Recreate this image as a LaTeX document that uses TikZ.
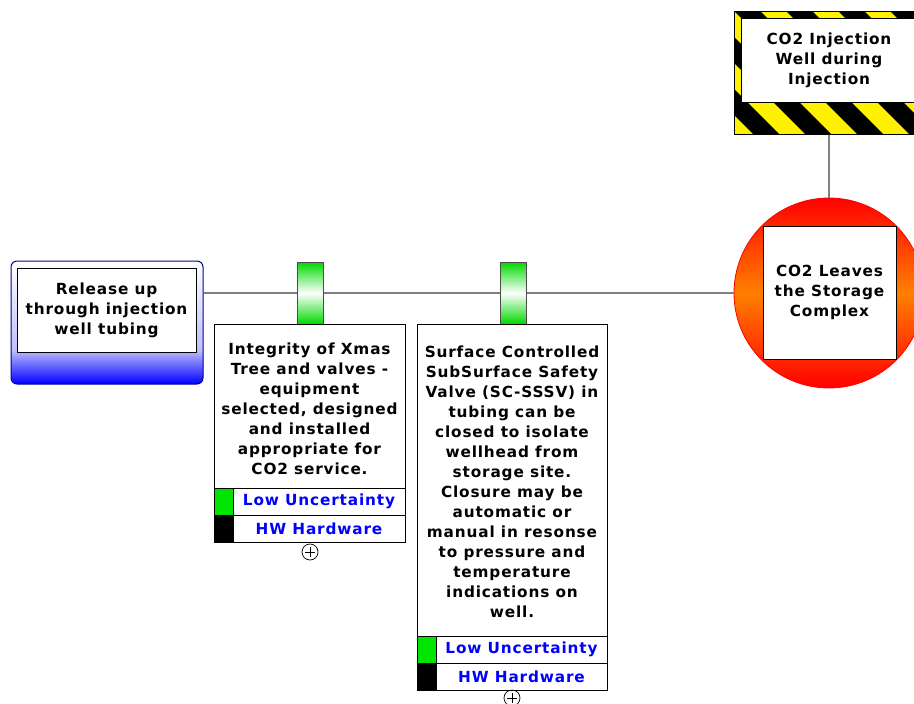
\documentclass[tikz,border=0pt]{standalone}
\usepackage{fontspec}
\setmainfont{DejaVu Sans}[LetterSpace=5.5]
\pgfdeclareverticalshading{relshade}{100bp}{color(0bp)=(blue); color(25bp)=(blue); color(39bp)=(blue!25!white); color(75bp)=(white); color(100bp)=(white)}
\begin{document}
\begin{tikzpicture}[x=1pt,y=-1pt,
  txt/.style={font=\bfseries\fontsize{15.3}{20}\selectfont, align=center, inner sep=0},
  lbl/.style={font=\bfseries\fontsize{15.3}{20}\selectfont, text=blue, inner sep=0},
  link/.style={draw=black!50, line width=2},
  whitebox/.style={draw=black, fill=white, line width=0.8, inner sep=0},
  tab/.style={draw=black!70, line width=0.8, top color=green!85!black, bottom color=green!85!black, middle color=white, minimum width=26, minimum height=62, inner sep=0},
  rowbox/.style={draw=black, fill=white, line width=0.8, minimum width=191, minimum height=27, inner sep=0},
  sq/.style={draw=black, line width=0.8, minimum width=19, minimum height=27, inner sep=0},
  plusc/.style={circle, draw=black, line width=0.7, minimum size=16, inner sep=0}
]
\useasboundingbox (0,0) rectangle (914,704);
\clip (0,0) rectangle (914,704);

% Left box
\node[draw=blue!60!black, line width=1, rounded corners=6, shading=relshade, minimum width=192, minimum height=123, inner sep=0] (rel) at (107,322.5) {};
\node[whitebox, minimum width=179, minimum height=84] (relin) at (106.5,310) {};
\node[txt] (reltxt) at (relin.center) {Release up\\through injection\\well tubing};

% Circle consequence
\node[circle, draw=red, line width=0.8, top color=red, bottom color=red, middle color=orange, minimum size=190, inner sep=0] (c) at (829,293) {};
\node[whitebox, minimum width=133, minimum height=133] (cin) at (829.5,292.5) {};
\node[txt] (ctxt) at (cin.center) {CO2 Leaves\\the Storage\\Complex};

% Hazard box
\node[draw=black, fill=yellow, line width=1, minimum width=190, minimum height=123, inner sep=0] (haz) at (829,72.5) {};
\begin{scope}
  \clip (734,11) rectangle (924,134);
  \foreach \i in {-4,...,6}
    \fill[black] ({734+\i*52},11) -- ++(26,0) -- ++(123,123) -- ++(-26,0) -- cycle;
\end{scope}
\node[draw=black, line width=1, minimum width=190, minimum height=123, inner sep=0] at (haz.center) {};
\node[whitebox, minimum width=176, minimum height=84] (hazin) at (829,60) {};
\node[txt] (haztxt) at (hazin.center) {CO2 Injection\\Well during\\Injection};

% Connectors
\draw[link] (haz.south) -- (c.north);
\draw[link] (rel.east |- c.west) -- (c.west);

% Barrier 1
\node[tab] (tab1) at (310,293) {};
\node[whitebox, minimum width=191, minimum height=164] (b1) at (309.5,406) {};
\node[txt] (b1txt) at (309.5,409) {Integrity of Xmas\\Tree and valves -\\equipment\\selected, designed\\and installed\\appropriate for\\CO2 service.};
\node[rowbox] (b1low) at (309.5,501.5) {};
\node[sq, fill=green!90!black, anchor=west] (b1lowsq) at (b1low.west) {};
\node[lbl] (b1lowt) at (319,501.5) {Low Uncertainty};
\node[rowbox] (b1hw) at (309.5,528.5) {};
\node[sq, fill=black, anchor=west] (b1hwsq) at (b1hw.west) {};
\node[lbl] (b1hwt) at (319,528.5) {HW Hardware};
\node[plusc] (b1plus) at (310,552) {};
\draw[line width=0.7] (b1plus.center) ++(-5,0) -- ++(10,0);
\draw[line width=0.7] (b1plus.center) ++(0,-5) -- ++(0,10);

% Barrier 2
\node[tab] (tab2) at (513,293) {};
\node[whitebox, minimum width=190, minimum height=312] (b2) at (512,480) {};
\node[txt] (b2txt) at (512,482) {Surface Controlled\\SubSurface Safety\\Valve (SC-SSSV) in\\tubing can be\\closed to isolate\\wellhead from\\storage site.\\Closure may be\\automatic or\\manual in resonse\\to pressure and\\temperature\\indications on\\well.};
\node[rowbox, minimum width=190] (b2low) at (512,649.5) {};
\node[sq, fill=green!90!black, anchor=west] (b2lowsq) at (b2low.west) {};
\node[lbl] (b2lowt) at (521.5,649.5) {Low Uncertainty};
\node[rowbox, minimum width=190] (b2hw) at (512,676.5) {};
\node[sq, fill=black, anchor=west] (b2hwsq) at (b2hw.west) {};
\node[lbl] (b2hwt) at (521.5,676.5) {HW Hardware};
\node[plusc] (b2plus) at (512,698) {};
\draw[line width=0.7] (b2plus.center) ++(-5,0) -- ++(10,0);
\draw[line width=0.7] (b2plus.center) ++(0,-5) -- ++(0,10);
\end{tikzpicture}
\end{document}
